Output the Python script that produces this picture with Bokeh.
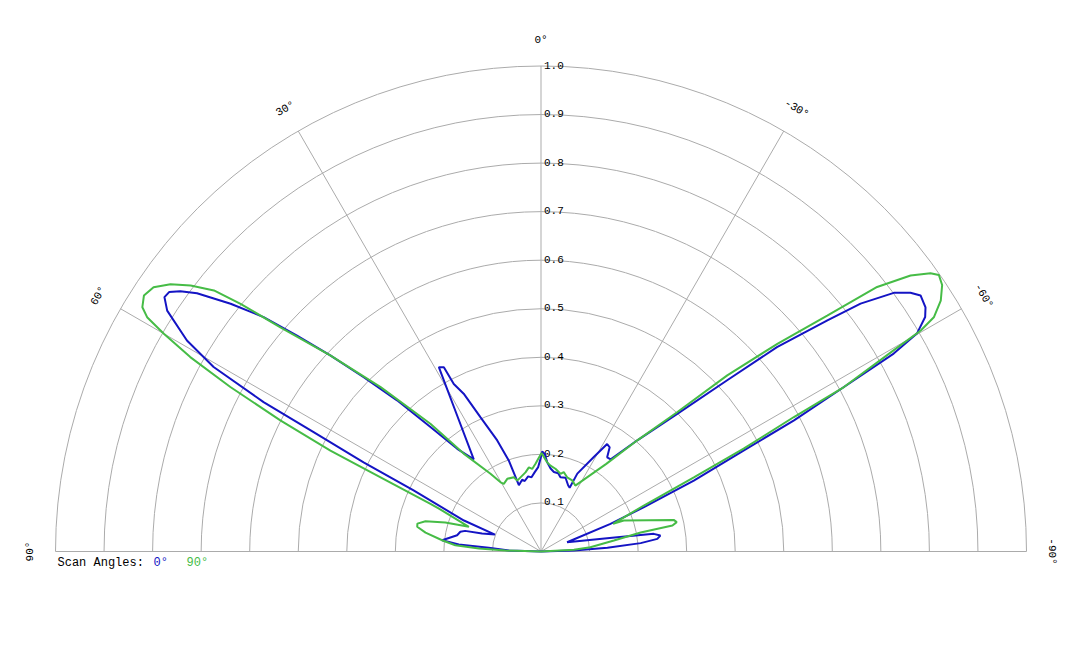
import numpy as np
from bokeh.plotting import figure
from bokeh.models import Range1d
from bokeh.embed import file_html
from bokeh.resources import INLINE

# ---- data (angle in degrees, positive to the left; normalised radius) ----
blue_theta = [90, 88.2, 85.9, 85.1, 83.5, 79.0, 76.25, 74.8, 73.0, 69.8,
              68.1, 64.4, 63.3, 62.3, 61.7, 60.6, 59.2, 57.2, 55.96, 55.1,
              54.2, 53.1, 51.4, 49.8, 48.5, 47.05, 45.5, 43.6, 41.6, 39.2,
              36.1, 31.5, 29.0, 27.8, 27.5, 26.1, 24.25, 21.5, 19.5, 18.45,
              14.7, 13.0, 9.7, 7.3, 4.5, 1.9, 0.3, -0.7, -2.2, -4.0,
              -6.6, -9.2, -12.4, -14.7, -18.4, -22.4, -24.2, -25.0, -29.2, -31.6,
              -33.4, -35.1, -37.1, -40.9, -44.7, -47.4, -49.1, -51.1, -52.2, -53.75,
              -55.0, -56.0, -57.6, -58.6, -59.9, -60.7, -61.5, -62.6, -63.5, -65.1,
              -66.7, -68.3, -70.5, -78.9, -81.1, -82.4, -83.8, -85.2, -86.8, -88.3,
              -90]
blue_r = [0.0, 0.066, 0.108, 0.170, 0.205, 0.176, 0.171, 0.162, 0.127, 0.101,
          0.171, 0.291, 0.409, 0.529, 0.649, 0.774, 0.849, 0.916, 0.936, 0.934,
          0.916, 0.886, 0.818, 0.748, 0.671, 0.593, 0.512, 0.430, 0.343, 0.273,
          0.235, 0.334, 0.434, 0.429, 0.389, 0.362, 0.303, 0.246, 0.199, 0.144,
          0.153, 0.149, 0.157, 0.154, 0.164, 0.174, 0.191, 0.206, 0.201, 0.184,
          0.172, 0.166, 0.165, 0.158, 0.160, 0.147, 0.144, 0.177, 0.223, 0.260,
          0.257, 0.237, 0.238, 0.303, 0.399, 0.521, 0.643, 0.758, 0.833, 0.901,
          0.929, 0.943, 0.938, 0.927, 0.895, 0.833, 0.710, 0.587, 0.467, 0.347,
          0.231, 0.154, 0.057, 0.144, 0.235, 0.248, 0.241, 0.206, 0.137, 0.068,
          0.0]

green_theta = [90, 88.4, 87.2, 85.8, 83.5, 80.7, 78.7, 77.3, 75.3, 73.1,
               71.1, 67.2, 66.65, 65.2, 64.4, 63.3, 62.1, 61.0, 60.0, 59.25,
               58.5, 57.2, 55.7, 54.2, 52.8, 51.4, 50.5, 49.3, 47.05, 44.3,
               40.9, 38.3, 33.0, 30.3, 28.8, 24.9, 20.1, 18.5, 11.1, 8.2,
               6.1, 3.6, -0.3, -4.0, -6.3, -9.9, -14.1, -16.0, -19.4, -23.7,
               -27.5, -36.7, -40.9, -44.35, -46.6, -48.7, -50.5, -51.8, -53.25, -54.45,
               -55.2, -56.4, -57.9, -59.2, -59.8, -60.3, -61.5, -62.0, -63.1, -64.1,
               -65.9, -69.0, -69.5, -76.6, -77.8, -78.8, -79.2, -81.4, -85.0, -87.0,
               -90]
green_r = [0.0, 0.073, 0.128, 0.177, 0.205, 0.241, 0.260, 0.261, 0.246, 0.206,
           0.157, 0.228, 0.248, 0.364, 0.481, 0.601, 0.724, 0.826, 0.897, 0.944,
           0.963, 0.973, 0.966, 0.941, 0.906, 0.862, 0.802, 0.708, 0.593, 0.473,
           0.348, 0.257, 0.191, 0.165, 0.159, 0.165, 0.163, 0.154, 0.166, 0.175,
           0.171, 0.181, 0.203, 0.184, 0.178, 0.173, 0.165, 0.170, 0.162, 0.160,
           0.153, 0.225, 0.303, 0.401, 0.528, 0.648, 0.764, 0.881, 0.950, 0.986,
           0.998, 0.992, 0.972, 0.942, 0.905, 0.836, 0.710, 0.590, 0.468, 0.350,
           0.232, 0.159, 0.182, 0.281, 0.286, 0.276, 0.209, 0.152, 0.102, 0.068,
           0.0]

ring_values = [0.1, 0.2, 0.3, 0.4, 0.5, 0.6, 0.7, 0.8, 0.9, 1.0]
ring_labels = ["0.1", "0.2", "0.3", "0.4", "0.5", "0.6", "0.7", "0.8", "0.9", "1.0"]
spoke_angles = [90, 60, 30, 0, -30, -60, -90]
spoke_labels = ["90°", "60°", "30°", "0°", "-30°", "-60°", "-90°"]
legend_title = "Scan Angles:"
series_names = ["0°", "90°"]
series_colors = ["#1414c4", "#46bc46"]

MONO = "Liberation Mono"
GRID = "#ababab"


def to_xy(theta_deg, r):
    t = np.radians(np.asarray(theta_deg, dtype=float))
    r = np.asarray(r, dtype=float)
    return -r * np.sin(t), r * np.cos(t)


W, H = 1064, 632
SCALE = 485.5          # pixels per unit radius
CX, CY = 540.5, 551.0  # centre inside the canvas (pixels from top-left)

p = figure(width=W, height=H, output_backend="svg", toolbar_location=None,
           x_axis_location=None, y_axis_location=None, min_border=0,
           x_range=Range1d(-CX / SCALE, (W - CX) / SCALE),
           y_range=Range1d(-(H - CY) / SCALE, CY / SCALE))
p.grid.visible = False
p.outline_line_color = None
p.background_fill_color = "white"
p.border_fill_color = "white"

# rings
p.arc(x=0, y=0, radius=ring_values, start_angle=0, end_angle=np.pi,
      line_color=GRID, line_width=1)
# spokes
sx, sy = to_xy(spoke_angles, [1.0] * len(spoke_angles))
p.segment(x0=0, y0=0, x1=sx, y1=sy, line_color=GRID, line_width=1)

# ring labels
p.text(x=[0] * len(ring_values), y=ring_values, text=ring_labels,
       x_offset=3, y_offset=-1, text_font={"value": MONO}, text_font_size="11px",
       text_align="left", text_baseline="alphabetic", text_color="black")

# angle labels
lx, ly = to_xy(spoke_angles, [1.053] * len(spoke_angles))
p.text(x=lx, y=ly, text=spoke_labels, angle=list(np.radians(spoke_angles)),
       text_font={"value": MONO}, text_font_size="11px",
       text_align="center", text_baseline="middle", text_color="black")

# pattern curves
bx, by = to_xy(blue_theta, blue_r)
gx, gy = to_xy(green_theta, green_r)
p.line(bx, by, line_color=series_colors[0], line_width=2)
p.line(gx, gy, line_color=series_colors[1], line_width=2)

# legend text
p.text(x=[-1.0], y=[0.0], text=[legend_title], x_offset=2, y_offset=11,
       text_font={"value": MONO}, text_font_size="12px",
       text_align="left", text_baseline="middle", text_color="black")
p.text(x=[-1.0], y=[0.0], text=[series_names[0]], x_offset=98, y_offset=11,
       text_font={"value": MONO}, text_font_size="12px",
       text_align="left", text_baseline="middle", text_color=series_colors[0])
p.text(x=[-1.0], y=[0.0], text=[series_names[1]], x_offset=131, y_offset=11,
       text_font={"value": MONO}, text_font_size="12px",
       text_align="left", text_baseline="middle", text_color=series_colors[1])

open("out.html", "w").write(file_html(p, INLINE))
